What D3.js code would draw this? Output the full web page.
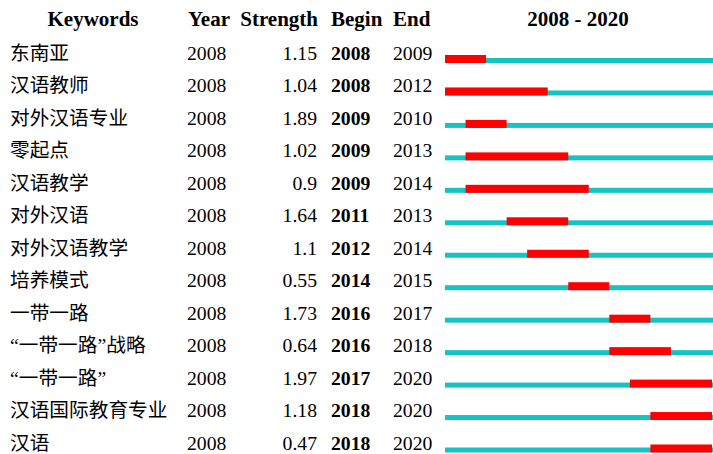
<!DOCTYPE html>
<html>
<head>
<meta charset="utf-8">
<script src="https://cdn.jsdelivr.net/npm/d3@7"></script>
<style>
  body { margin: 0; background: #fff; }
  svg { display: block; font-family: "Liberation Serif", "Noto Sans CJK SC", serif; }
</style>
</head>
<body>
<svg width="713" height="454"></svg>
<script>
// данные
const keywords  = ["东南亚", "汉语教师", "对外汉语专业", "零起点", "汉语教学", "对外汉语",
                   "对外汉语教学", "培养模式", "一带一路", "“一带一路”战略", "“一带一路”",
                   "汉语国际教育专业", "汉语"];
const years     = [2008, 2008, 2008, 2008, 2008, 2008, 2008, 2008, 2008, 2008, 2008, 2008, 2008];
const strengths = ["1.15", "1.04", "1.89", "1.02", "0.9", "1.64", "1.1", "0.55", "1.73", "0.64", "1.97", "1.18", "0.47"];
const begins    = [2008, 2008, 2009, 2009, 2009, 2011, 2012, 2014, 2016, 2016, 2017, 2018, 2018];
const ends      = [2009, 2012, 2010, 2013, 2014, 2013, 2014, 2015, 2017, 2018, 2020, 2020, 2020];
const yearFrom = 2008, yearTo = 2020;

const svg = d3.select("svg");
const fs = 19.7;

const rows = keywords.map((k, i) => ({
  key: k, year: years[i], strength: strengths[i], begin: begins[i], end: ends[i]
}));

// шкалы
const scY = d3.scalePoint()
  .domain(d3.range(rows.length))
  .range([60, 449.5]);

const scX = d3.scaleLinear()
  .domain([yearFrom, yearTo + 1])
  .range([445, 712]);

// заголовок
const head = svg.append("g")
  .attr("font-weight", "bold")
  .attr("font-size", 21)
  .attr("fill", "#000");
head.append("text").attr("x", 93).attr("y", 26).attr("text-anchor", "middle").text("Keywords");
head.append("text").attr("x", 188).attr("y", 26).text("Year");
head.append("text").attr("x", 318).attr("y", 26).attr("text-anchor", "end").text("Strength");
head.append("text").attr("x", 331).attr("y", 26).text("Begin");
head.append("text").attr("x", 393).attr("y", 26).text("End");
head.append("text").attr("x", 578).attr("y", 26).attr("text-anchor", "middle")
  .text(yearFrom + " - " + yearTo);

// строки таблицы
const g = svg.append("g").attr("font-size", fs).attr("fill", "#000");
rows.forEach((d, i) => {
  const y = scY(i);
  g.append("text").attr("x", 10).attr("y", y).text(d.key);
  g.append("text").attr("x", 187).attr("y", y).text(d.year);
  g.append("text").attr("x", 317).attr("y", y).attr("text-anchor", "end").text(d.strength);
  g.append("text").attr("x", 331).attr("y", y).attr("font-weight", "bold").text(d.begin);
  g.append("text").attr("x", 393).attr("y", y).text(d.end);

  // линия всего периода
  svg.append("rect")
    .attr("x", scX(yearFrom))
    .attr("y", y - 2)
    .attr("width", 713 - scX(yearFrom))
    .attr("height", 5)
    .style("fill", "#14c3c3");

  // всплеск
  svg.append("rect")
    .attr("x", scX(d.begin))
    .attr("y", y - 5)
    .attr("width", scX(d.end + 1) - scX(d.begin))
    .attr("height", 8)
    .style("fill", "#ff0000");
});
</script>
</body>
</html>
